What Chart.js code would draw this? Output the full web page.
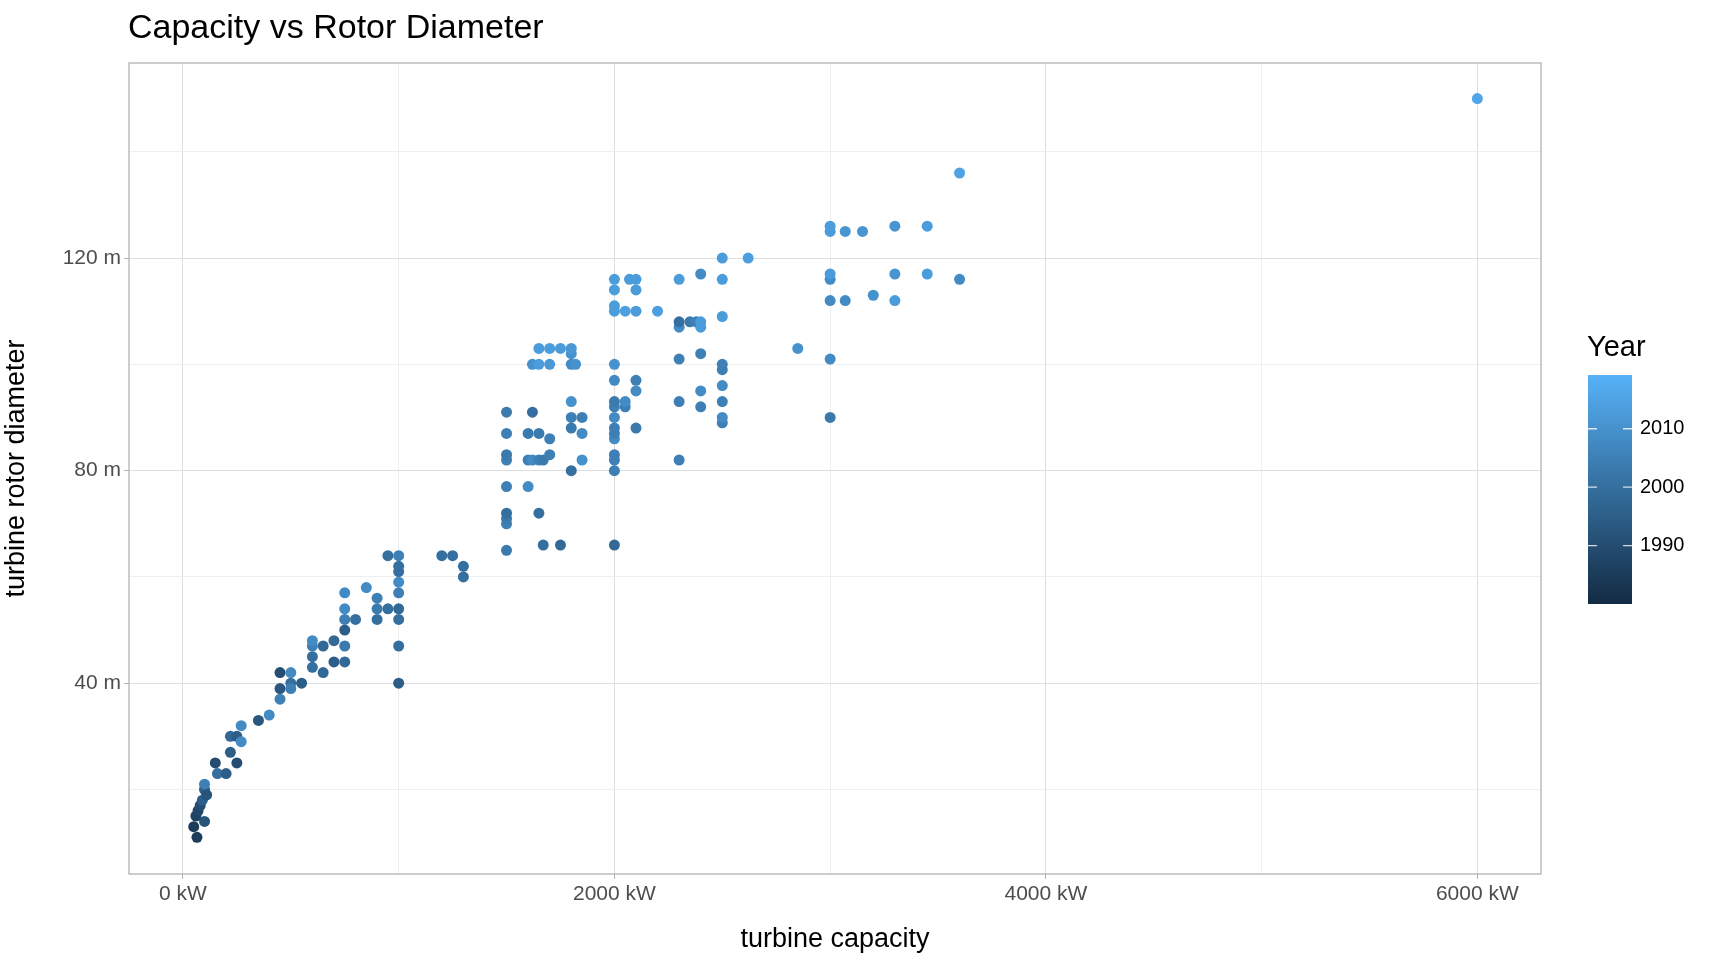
<!DOCTYPE html>
<html>
<head>
<meta charset="utf-8">
<script src="https://cdn.jsdelivr.net/npm/chart.js@4/dist/chart.umd.min.js"></script>
<style>
  html, body { margin: 0; padding: 0; background: #fff; }
  #wrap { width: 1728px; height: 960px; position: relative; }
</style>
</head>
<body>
<div id="wrap"><canvas id="chart"></canvas></div>
<script>
// turbine capacity (kW), rotor diameter (m), year
const capacity = [
  50, 60, 65, 70, 80, 90, 100, 100, 110, 100, 150, 160, 200, 220, 220, 250, 250, 270, 270, 350,
  400, 450, 450, 450, 500, 500, 500, 550, 600, 600, 600, 600, 650, 650, 700, 700, 750, 750, 750, 750,
  750, 750, 800, 850, 900, 900, 900, 950, 950, 1000, 1000, 1000, 1000, 1000, 1000, 1000, 1000, 1000, 1200, 1250,
  1300, 1300,
  1500, 1500, 1500, 1500, 1500, 1500, 1500, 1500, 1500, 1600, 1600, 1600, 1620, 1620, 1620, 1650, 1650, 1650, 1650, 1650,
  1670, 1670, 1700, 1700, 1700, 1700, 1750, 1750, 1800, 1800, 1800, 1800, 1800, 1800, 1800, 1820, 1850, 1850, 1850,
  2000, 2000, 2000, 2000, 2000, 2000, 2000, 2000, 2000, 2000, 2000, 2000, 2000, 2000, 2000, 2000, 2050, 2050, 2050, 2070,
  2100, 2100, 2100, 2100, 2100, 2100, 2200, 2300, 2300, 2300, 2300, 2300, 2300, 2350, 2380, 2400, 2400, 2400, 2400, 2400,
  2400, 2500, 2500, 2500, 2500, 2500, 2500, 2500, 2500, 2500, 2620, 2850,
  3000, 3000, 3000, 3000, 3000, 3000, 3000, 3070, 3070, 3150, 3200, 3300, 3300, 3300, 3450, 3450, 3600, 3600, 6000
];
const diameter = [
  13, 15, 11, 16, 17, 18, 20, 21, 19, 14, 25, 23, 23, 27, 30, 25, 30, 29, 32, 33,
  34, 37, 39, 42, 40, 42, 39, 40, 43, 45, 47, 48, 42, 47, 44, 48, 44, 47, 50, 52,
  54, 57, 52, 58, 52, 54, 56, 54, 64, 40, 47, 52, 54, 57, 59, 61, 62, 64, 64, 64,
  60, 62,
  65, 70, 71, 72, 77, 82, 83, 87, 91, 77, 82, 87, 91, 82, 100, 100, 103, 87, 82, 72,
  66, 82, 86, 83, 100, 103, 103, 66, 80, 88, 90, 93, 100, 102, 103, 100, 82, 87, 90,
  66, 80, 82, 83, 86, 87, 88, 90, 92, 93, 97, 100, 110, 111, 114, 116, 92, 110, 93, 116,
  88, 95, 97, 110, 114, 116, 110, 82, 93, 101, 107, 108, 116, 108, 108, 92, 95, 102, 107, 108,
  117, 89, 90, 93, 96, 99, 100, 109, 116, 120, 120, 103,
  90, 101, 112, 116, 117, 125, 126, 112, 125, 125, 113, 112, 117, 126, 117, 126, 136, 116, 150
];
const year = [
  1985, 1987, 1985, 1988, 1990, 1995, 1995, 2005, 1992, 1992, 1990, 2000, 1995, 1995, 1998, 1990, 1995, 2008, 2008, 1993,
  2008, 2005, 1993, 1990, 2000, 2008, 2005, 1995, 2000, 2000, 2005, 2008, 1998, 1998, 1995, 1998, 1998, 2003, 1995, 2005,
  2008, 2008, 2000, 2008, 2000, 2003, 2005, 2000, 2000, 1995, 2000, 2000, 1998, 2005, 2008, 2000, 2000, 2005, 2000, 2000,
  2000, 2000,
  2003, 2005, 2003, 2000, 2005, 2005, 2003, 2005, 2003, 2008, 2005, 2003, 2000, 2008, 2010, 2013, 2013, 2003, 2005, 2000,
  2000, 2003, 2005, 2005, 2012, 2013, 2013, 1998, 2000, 2003, 2005, 2010, 2008, 2010, 2012, 2010, 2010, 2008, 2005,
  1998, 2005, 2005, 2005, 2008, 2005, 2005, 2008, 2005, 2003, 2008, 2010, 2013, 2013, 2013, 2013, 2005, 2014, 2008, 2013,
  2003, 2008, 2005, 2013, 2013, 2013, 2014, 2005, 2005, 2005, 2008, 2000, 2013, 2003, 2005, 2005, 2008, 2005, 2013, 2013,
  2008, 2005, 2008, 2005, 2008, 2005, 2005, 2013, 2013, 2013, 2014, 2010,
  2003, 2008, 2008, 2008, 2013, 2013, 2013, 2008, 2011, 2011, 2010, 2013, 2011, 2011, 2013, 2013, 2015, 2008, 2016
];
const xTicks = [0, 2000, 4000, 6000];
const yTicks = [40, 80, 120];
const legendTicks = [1990, 2000, 2010];
const yearMin = 1980, yearMax = 2019.2;

const lowCol = [19, 43, 67], highCol = [86, 177, 247];
function yearColor(y) {
  const t = Math.max(0, Math.min(1, (y - yearMin) / (yearMax - yearMin)));
  const c = lowCol.map((v, i) => Math.round(v + (highCol[i] - v) * t));
  return `rgb(${c[0]},${c[1]},${c[2]})`;
}

const points = capacity.map((c, i) => ({ x: c, y: diameter[i], year: year[i] }));
const FONT = '"Liberation Sans", Arial, sans-serif';

const decor = {
  id: 'decor',
  afterDraw(chart) {
    const ctx = chart.ctx;
    const a = chart.chartArea;
    ctx.save();
    ctx.strokeStyle = '#b3b3b3';
    ctx.lineWidth = 1.3;
    ctx.strokeRect(a.left, a.top, a.right - a.left, a.bottom - a.top);
    ctx.fillStyle = '#000';
    ctx.font = '34px ' + FONT;
    ctx.textBaseline = 'middle';
    ctx.textAlign = 'left';
    ctx.fillText('Capacity vs Rotor Diameter', 128, 29);
    // colour bar legend
    const bx = 1588, by = 375, bw = 44, bh = 229;
    ctx.font = '29px ' + FONT;
    ctx.fillText('Year', 1587, 348);
    const g = ctx.createLinearGradient(0, by + bh, 0, by);
    for (let k = 0; k <= 10; k++) {
      const yv = yearMin + (yearMax - yearMin) * k / 10;
      g.addColorStop(k / 10, yearColor(yv));
    }
    ctx.fillStyle = g;
    ctx.fillRect(bx, by, bw, bh);
    ctx.font = '20px ' + FONT;
    ctx.fillStyle = '#000';
    ctx.strokeStyle = 'rgba(255,255,255,0.8)';
    legendTicks.forEach(t => {
      const py = by + bh - (t - yearMin) / (yearMax - yearMin) * bh;
      ctx.beginPath();
      ctx.moveTo(bx, py); ctx.lineTo(bx + 9, py);
      ctx.moveTo(bx + bw - 9, py); ctx.lineTo(bx + bw, py);
      ctx.stroke();
      ctx.fillText(String(t), bx + bw + 8, py);
    });
    ctx.restore();
  }
};

const majorX = v => v % 2000 === 0;
const majorY = v => v % 40 === 0;

new Chart(document.getElementById('chart'), {
  type: 'scatter',
  data: {
    datasets: [{
      data: points,
      pointRadius: 5.5,
      pointHoverRadius: 6,
      borderWidth: 0,
      pointBackgroundColor: ctx => yearColor(ctx.raw ? ctx.raw.year : 2000)
    }]
  },
  options: {
    responsive: true,
    maintainAspectRatio: false,
    animation: false,
    layout: { padding: { top: 63, right: 187, bottom: 4, left: 0 } },
    plugins: { legend: { display: false }, tooltip: { enabled: false } },
    scales: {
      x: {
        type: 'linear',
        min: -250, max: 6295,
        afterBuildTicks: s => { s.ticks = [0, 1000, 2000, 3000, 4000, 5000, 6000].map(v => ({ value: v })); },
        afterFit: s => { s.height = 82; },
        grid: {
          color: c => majorX(c.tick.value) ? '#dedede' : '#efefef',
          tickColor: c => majorX(c.tick.value) ? '#b3b3b3' : 'rgba(0,0,0,0)',
          tickLength: 5
        },
        border: { display: false },
        ticks: {
          color: '#4d4d4d',
          font: { size: 21, family: FONT },
          padding: 3,
          maxRotation: 0,
          autoSkip: false,
          callback: v => xTicks.includes(v) ? v + ' kW' : ''
        },
        title: {
          display: true, text: 'turbine capacity', color: '#000',
          font: { size: 27, family: FONT },
          padding: { top: 6, bottom: 0 }
        }
      },
      y: {
        type: 'linear',
        min: 4.1, max: 156.7,
        afterBuildTicks: s => { s.ticks = [20, 40, 60, 80, 100, 120, 140].map(v => ({ value: v })); },
        afterFit: s => { s.width = 129; },
        grid: {
          color: c => majorY(c.tick.value) ? '#dedede' : '#efefef',
          tickColor: c => majorY(c.tick.value) ? '#b3b3b3' : 'rgba(0,0,0,0)',
          tickLength: 5
        },
        border: { display: false },
        ticks: {
          color: '#4d4d4d',
          font: { size: 21, family: FONT },
          padding: 3,
          autoSkip: false,
          callback: v => yTicks.includes(v) ? v + ' m' : ''
        },
        title: {
          display: true, text: 'turbine rotor diameter', color: '#000',
          font: { size: 27, family: FONT },
          padding: { top: 0, bottom: 8 }
        }
      }
    }
  },
  plugins: [decor]
});
</script>
</body>
</html>
